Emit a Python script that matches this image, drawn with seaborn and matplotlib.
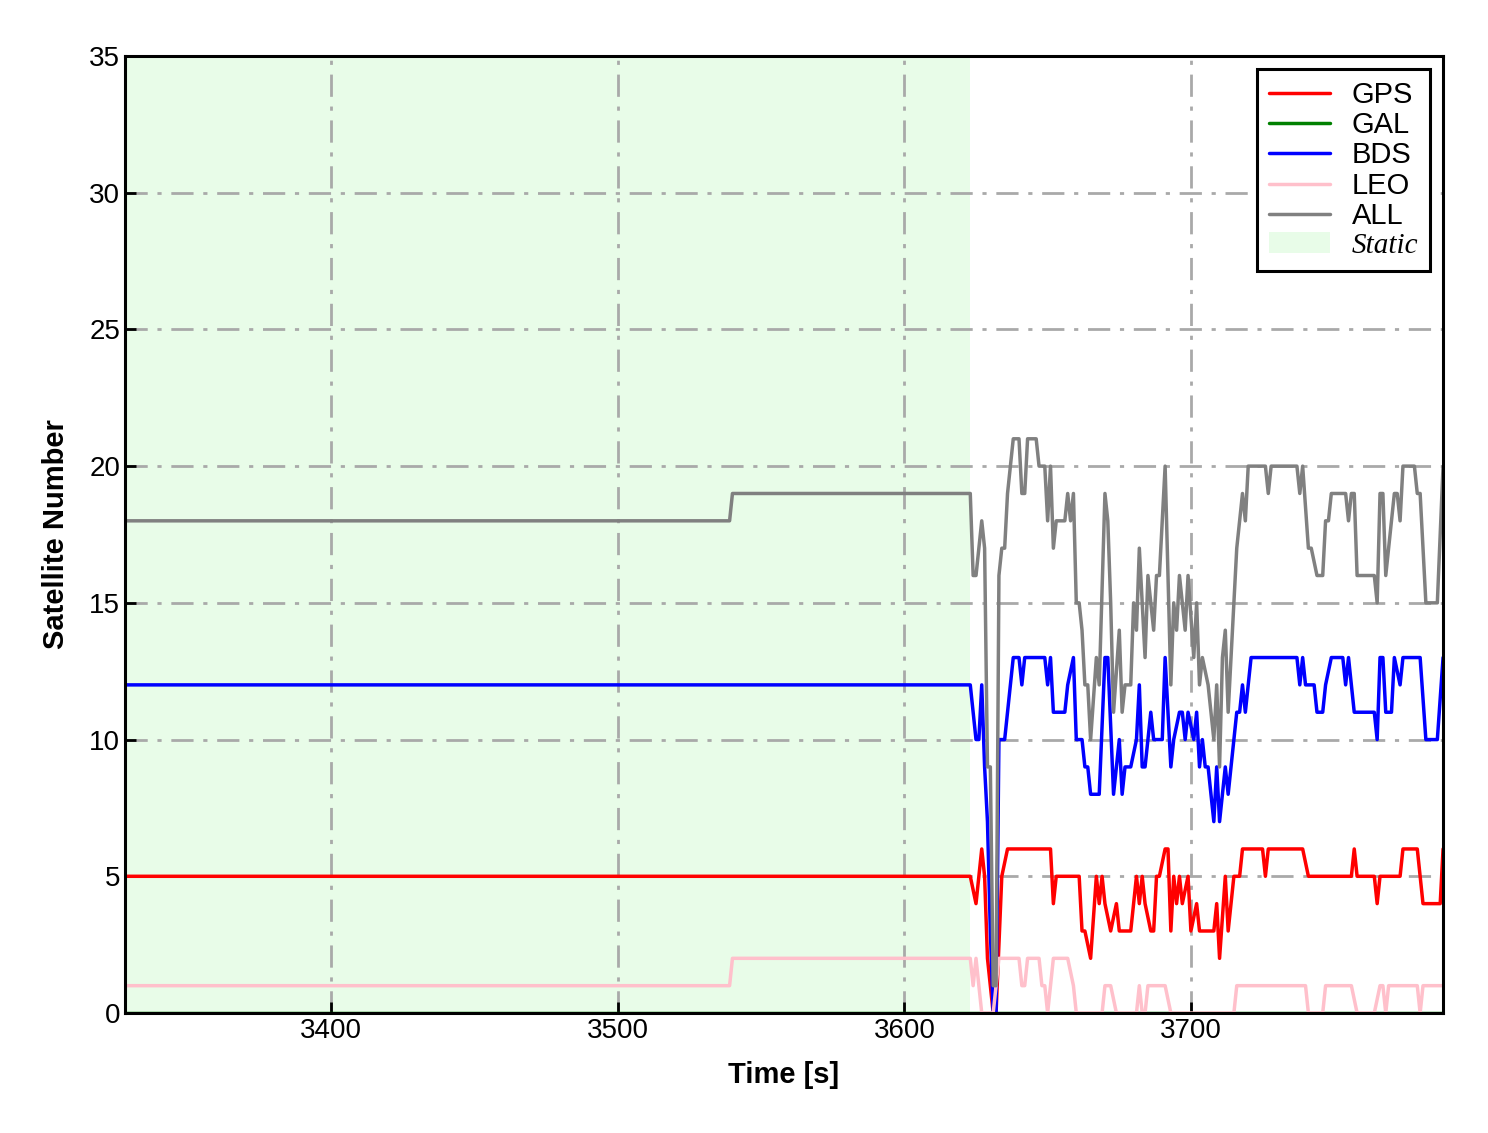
import pandas as pd
import seaborn as sns
import matplotlib.pyplot as plt
from matplotlib.lines import Line2D
from matplotlib.patches import Patch

# --- Data ---
systems = ["GPS", "GAL", "BDS", "LEO", "ALL"]
palette = {"GPS": "red", "GAL": "green", "BDS": "blue", "LEO": "pink", "ALL": "gray"}

static_start = 3328
static_end = 3623
static_color = "#e8fce8"

gps_t = [3328, 3623, 3625, 3627, 3628, 3629, 3631, 3632, 3634, 3636, 3651, 3652, 3653, 3661, 3662,
         3663, 3665, 3667, 3668, 3669, 3670, 3672, 3674, 3675, 3679, 3681, 3682, 3683, 3684, 3686,
         3687, 3688, 3689, 3691, 3692, 3693, 3694, 3695, 3696, 3697, 3699, 3700, 3702, 3703, 3708,
         3709, 3710, 3712, 3713, 3715, 3717, 3718, 3725, 3726, 3727, 3739, 3741, 3756, 3757, 3758,
         3764, 3765, 3766, 3773, 3774, 3779, 3781, 3787, 3788]
gps_v = [5, 5, 4, 6, 5, 2, 0, 0, 5, 6, 6, 4, 5, 5, 3,
         3, 2, 5, 4, 5, 4, 3, 4, 3, 3, 5, 4, 5, 4, 3,
         3, 5, 5, 6, 6, 3, 5, 4, 5, 4, 5, 3, 4, 3, 3,
         4, 2, 5, 3, 5, 5, 6, 6, 5, 6, 6, 5, 5, 6, 5,
         5, 4, 5, 5, 6, 6, 4, 4, 6]

gal_t = [3328, 3788]
gal_v = [0, 0]

bds_t = [3328, 3623, 3625, 3626, 3627, 3628, 3629, 3630, 3631, 3632, 3633, 3635, 3638, 3640, 3641,
         3642, 3649, 3650, 3651, 3652, 3656, 3657, 3659, 3660, 3662, 3663, 3664, 3665, 3668, 3670,
         3671, 3673, 3675, 3676, 3677, 3679, 3681, 3682, 3683, 3684, 3686, 3687, 3690, 3691, 3693,
         3694, 3696, 3697, 3698, 3699, 3701, 3702, 3703, 3704, 3705, 3706, 3708, 3709, 3710, 3712,
         3713, 3715, 3716, 3717, 3718, 3719, 3721, 3737, 3738, 3739, 3740, 3743, 3744, 3746, 3747,
         3749, 3753, 3754, 3755, 3757, 3764, 3765, 3766, 3767, 3768, 3770, 3771, 3773, 3774, 3780,
         3782, 3786, 3788]
bds_v = [12, 12, 10, 10, 12, 9, 7, 3, 0, 0, 10, 10, 13, 13, 12,
         13, 13, 12, 13, 11, 11, 12, 13, 10, 10, 9, 9, 8, 8, 13,
         13, 8, 10, 8, 9, 9, 10, 12, 9, 9, 11, 10, 10, 13, 9,
         10, 11, 11, 10, 11, 10, 11, 9, 10, 9, 9, 7, 9, 7, 9,
         8, 10, 11, 11, 12, 11, 13, 13, 12, 13, 12, 12, 11, 11, 12,
         13, 13, 12, 13, 11, 11, 10, 13, 13, 11, 11, 13, 12, 13, 13,
         10, 10, 13]

leo_t = [3328, 3539, 3540, 3623, 3624, 3625, 3627, 3631, 3633, 3640, 3641, 3642, 3643, 3647, 3648,
         3649, 3650, 3652, 3657, 3659, 3660, 3669, 3670, 3672, 3674, 3681, 3682, 3683, 3684, 3685,
         3691, 3693, 3715, 3716, 3740, 3741, 3746, 3747, 3756, 3758, 3764, 3766, 3767, 3768, 3769,
         3779, 3780, 3781, 3788]
leo_v = [1, 1, 2, 2, 1, 2, 0, 0, 2, 2, 1, 1, 2, 2, 1,
         1, 0, 2, 2, 1, 0, 0, 1, 1, 0, 0, 1, 0, 0, 1,
         1, 0, 0, 1, 1, 0, 0, 1, 1, 0, 0, 1, 1, 0, 1,
         1, 0, 1, 1]

all_t = [3328, 3539, 3540, 3623, 3624, 3625, 3627, 3628, 3629, 3630, 3631, 3632, 3633, 3634, 3635,
         3636, 3637, 3638, 3640, 3641, 3642, 3643, 3646, 3647, 3649, 3650, 3651, 3652, 3653, 3656,
         3657, 3658, 3659, 3660, 3661, 3662, 3663, 3664, 3665, 3667, 3668, 3670, 3671, 3672, 3673,
         3675, 3676, 3677, 3679, 3680, 3681, 3682, 3684, 3685, 3687, 3688, 3689, 3691, 3693, 3694,
         3695, 3696, 3698, 3699, 3701, 3702, 3703, 3704, 3706, 3708, 3709, 3710, 3711, 3712, 3713,
         3715, 3716, 3718, 3719, 3720, 3726, 3727, 3728, 3737, 3738, 3739, 3741, 3742, 3744, 3746,
         3747, 3748, 3749, 3754, 3755, 3756, 3757, 3758, 3764, 3765, 3766, 3767, 3768, 3771, 3772,
         3773, 3774, 3778, 3779, 3780, 3782, 3786, 3788]
all_v = [18, 18, 19, 19, 16, 16, 18, 17, 9, 9, 1, 1, 16, 17, 17,
         19, 20, 21, 21, 19, 19, 21, 21, 20, 20, 18, 20, 17, 18, 18,
         19, 18, 19, 15, 15, 14, 12, 12, 10, 13, 12, 19, 18, 15, 11,
         14, 11, 12, 12, 15, 14, 17, 13, 16, 14, 16, 16, 20, 12, 15,
         14, 16, 14, 16, 13, 15, 12, 13, 12, 10, 12, 9, 13, 14, 11,
         15, 17, 19, 18, 20, 20, 19, 20, 20, 19, 20, 17, 17, 16, 16,
         18, 18, 19, 19, 18, 19, 19, 16, 16, 15, 19, 19, 16, 19, 19,
         18, 20, 20, 19, 19, 15, 15, 20]

series = {
    "GPS": (gps_t, gps_v),
    "GAL": (gal_t, gal_v),
    "BDS": (bds_t, bds_v),
    "LEO": (leo_t, leo_v),
    "ALL": (all_t, all_v),
}

frames = [pd.DataFrame({"time": t, "sats": v, "system": name}) for name, (t, v) in series.items()]
df = pd.concat(frames, ignore_index=True)

# --- Style ---
sns.set_style("ticks")
plt.rcParams["font.family"] = ["Liberation Sans", "DejaVu Sans"]
plt.rcParams["text.color"] = "black"
plt.rcParams["axes.labelcolor"] = "black"

fig, ax = plt.subplots(figsize=(14.88, 11.33), dpi=100)
fig.subplots_adjust(left=0.084, right=0.9698, top=0.9506, bottom=0.1059)

ax.axvspan(static_start, static_end, color=static_color, lw=0, zorder=0.5)

sns.lineplot(data=df, x="time", y="sats", hue="system", hue_order=systems, palette=palette,
             estimator=None, sort=False, linewidth=2.5, legend=False, ax=ax)

ax.set_axisbelow("line")
ax.grid(True, color="#a9a9a9", linestyle=(0, (8, 3.5, 1.5, 3.5)), linewidth=2)

ax.set_xlim(min(all_t), max(all_t))
ax.set_ylim(0, 35)
ax.set_xticks([3400, 3500, 3600, 3700])
ax.set_yticks(range(0, 36, 5))
ax.tick_params(direction="in", length=8, width=2, labelsize=20, colors="black")
for sp in ax.spines.values():
    sp.set_visible(True)
    sp.set_linewidth(2.2)
    sp.set_color("black")
    sp.set_zorder(5)

ax.set_xlabel("Time [s]", fontsize=21, fontweight="bold", labelpad=12)
ax.set_ylabel("Satellite Number", fontsize=21, fontweight="bold", labelpad=14)

handles = [Line2D([], [], color=palette[s], lw=2.5) for s in systems]
handles.append(Patch(facecolor=static_color, edgecolor="none"))
labels = systems + ["Static"]
leg = ax.legend(handles, labels, loc="upper right", fontsize=21, frameon=True, fancybox=False,
                edgecolor="black", framealpha=1, handlelength=2.1, handletextpad=0.75,
                labelspacing=0.08, borderpad=0.4, borderaxespad=0.45)
leg.get_frame().set_linewidth(2.2)
leg.get_texts()[-1].set_fontfamily(["Liberation Serif", "DejaVu Serif"])
leg.get_texts()[-1].set_fontstyle("italic")

fig.savefig("out.png", dpi=100)
